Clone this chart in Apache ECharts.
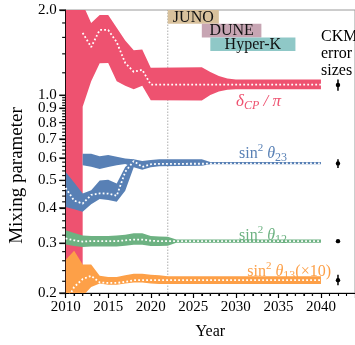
<!DOCTYPE html>
<html><head><meta charset="utf-8">
<script src="https://cdn.jsdelivr.net/npm/echarts@6/dist/echarts.min.js"></script>
<style>html,body{margin:0;padding:0;background:#fff}#c{width:355px;height:345px}</style>
</head><body><div id="c"></div>
<script>
// ---------------- data ----------------
const dcpYears = [2010, 2011, 2012, 2012, 2013, 2014, 2015, 2016, 2017, 2018, 2019, 2020, 2026, 2027, 2028, 2029, 2030, 2040];
const dcpLow   = [0.19, 0.19, 0.19, 0.91, 1.12, 1.296, 1.30, 1.12, 1.08, 1.05, 1.08, 0.96, 0.958, 1.002, 1.031, 1.045, 1.05, 1.05];
const dcpHigh  = [2.2, 2.2, 2.2, 2.1, 1.80, 1.92, 1.92, 1.73, 1.56, 1.44, 1.45, 1.25, 1.256, 1.208, 1.168, 1.145, 1.136, 1.136];
const dcpBestYears = [2012, 2013, 2014, 2015, 2016, 2017, 2018, 2019, 2020, 2040];
const dcpBest      = [1.66, 1.48, 1.70, 1.70, 1.54, 1.30, 1.21, 1.23, 1.09, 1.09];

const t23LoYears = [2010, 2011, 2012, 2013, 2014, 2015, 2016, 2017, 2018];
const t23LoLow   = [0.403, 0.395, 0.387, 0.412, 0.430, 0.426, 0.420, 0.460, 0.556];
const t23LoHigh  = [0.535, 0.491, 0.449, 0.461, 0.500, 0.503, 0.487, 0.558, 0.594];
const t23HiYears = [2012, 2013, 2014, 2015, 2016, 2017, 2018, 2019, 2020, 2021, 2026, 2027, 2040];
const t23HiLow   = [0.566, 0.559, 0.549, 0.557, 0.566, 0.571, 0.556, 0.545, 0.556, 0.561, 0.563, 0.570, 0.570];
const t23HiHigh  = [0.621, 0.621, 0.609, 0.615, 0.606, 0.597, 0.594, 0.586, 0.590, 0.594, 0.594, 0.581, 0.581];
const t23BestYears = [2010, 2011, 2012, 2013, 2014, 2015, 2016, 2017, 2018, 2019, 2020, 2021, 2040];
const t23Best      = [0.470, 0.424, 0.414, 0.444, 0.450, 0.449, 0.441, 0.536, 0.585, 0.558, 0.570, 0.572, 0.574];

const t12Years = [2010, 2011, 2012, 2013, 2014, 2015, 2016, 2017, 2018, 2019, 2020, 2021, 2022, 2023, 2040];
const t12Low   = [0.297, 0.293, 0.291, 0.292, 0.292, 0.292, 0.292, 0.294, 0.296, 0.296, 0.293, 0.293, 0.294, 0.301, 0.301];
const t12High  = [0.333, 0.326, 0.319, 0.318, 0.318, 0.318, 0.319, 0.321, 0.325, 0.325, 0.318, 0.317, 0.316, 0.309, 0.309];
const t12BestYears = [2010, 2011, 2012, 2013, 2014, 2015, 2016, 2017, 2018, 2019, 2020, 2021, 2022, 2040];
const t12Best      = [0.312, 0.307, 0.304, 0.305, 0.305, 0.305, 0.305, 0.307, 0.309, 0.309, 0.306, 0.305, 0.305, 0.305];

const t13Years = [2010, 2011, 2012, 2013, 2014, 2015, 2016, 2017, 2018, 2019, 2020, 2021, 2022, 2040];
const t13Low   = [0.19, 0.19, 0.195, 0.210, 0.216, 0.214, 0.214, 0.216, 0.218, 0.218, 0.216, 0.215, 0.215, 0.215];
const t13High  = [0.262, 0.282, 0.252, 0.252, 0.230, 0.228, 0.228, 0.231, 0.234, 0.234, 0.232, 0.231, 0.229, 0.229];
const t13BestYears = [2010, 2011, 2012, 2013, 2014, 2015, 2016, 2017, 2018, 2019, 2020, 2040];
const t13Best      = [0.185, 0.210, 0.224, 0.230, 0.218, 0.217, 0.217, 0.219, 0.222, 0.222, 0.222, 0.222];

const ckmYear   = 2042;
const ckmCenter = [1.086, 0.574, 0.305, 0.222];
const ckmLow    = [1.037, 0.553, 0.303, 0.213];
const ckmHigh   = [1.136, 0.594, 0.307, 0.232];

const expNames = ['JUNO', 'DUNE', 'Hyper-K'];
const expStart = [2022, 2026, 2027];
const expEnd   = [2028, 2033, 2037];
const referenceYear = 2022;

const xTickValues = [2010, 2015, 2020, 2025, 2030, 2035, 2040];
const yTickValues = [0.2, 0.3, 0.4, 0.5, 0.6, 0.7, 0.8, 0.9, 1.0, 2.0];

// ---------------- styling / layout ----------------
const serif = '"Liberation Serif", "DejaVu Serif", serif';
const C = {red: '#EE5270', blue: '#5880B5', green: '#6DB282', orange: '#FDA048'};
const expColors = ['#D8C19C', '#C7A5B3', '#8FC8C7'];

const xMinor = [];
for (let y = 2011; y < 2040; y++) if (y % 5) xMinor.push(y);
const yMinor = [];
for (let k = 11; k < 50; k++) { const v = +(k * 0.02).toFixed(2); if (Math.abs(v * 10 - Math.round(v * 10)) > 1e-6) yMinor.push(v); }
[1.2, 1.4, 1.6, 1.8].forEach(v => yMinor.push(v));

const X_MIN = 2010, X_MAX = 2044, Y_MIN = 0.2, Y_MAX = 2.0;

function band(years, low, high, color) {
  return {
    type: 'custom', coordinateSystem: 'cartesian2d', silent: true, z: 2,
    data: years.map((y, i) => [y, low[i], high[i]]),
    encode: {x: 0, y: [1, 2]},
    renderItem(params, api) {
      if (params.dataIndex !== 0) return {type: 'group', children: []};
      const pts = [];
      for (let i = 0; i < years.length; i++) pts.push(api.coord([years[i], high[i]]));
      for (let i = years.length - 1; i >= 0; i--) pts.push(api.coord([years[i], low[i]]));
      const cs = params.coordSys;
      return {
        type: 'polygon', shape: {points: pts}, style: {fill: color, stroke: null},
        clipPath: {type: 'rect', shape: {x: cs.x, y: cs.y, width: cs.width, height: cs.height}}
      };
    }
  };
}
function dotted(years, vals) {
  return {
    type: 'line', data: years.map((y, i) => [y, vals[i]]), symbol: 'none', clip: true, z: 4, silent: true,
    lineStyle: {color: '#fff', width: 1.8, type: [1.8, 2.2]}
  };
}

function richLabel(color, size) {
  return {
    m: {fontFamily: serif, fontSize: size, lineHeight: size, padding: [3, 0, 0, 0], verticalAlign: 'top', fill: color},
    t: {fontFamily: serif, fontStyle: 'italic', fontSize: size, lineHeight: size, padding: [3, 0, 0, 0], verticalAlign: 'top', fill: color},
    p: {fontFamily: serif, fontSize: 11, lineHeight: 11, padding: [0, 0, 0, 0], verticalAlign: 'top', fill: color},
    s: {fontFamily: serif, fontSize: 12, lineHeight: 12, padding: [9, 0, 0, 0], verticalAlign: 'top', fill: color},
    si: {fontFamily: serif, fontStyle: 'italic', fontSize: 12, lineHeight: 12, padding: [10, 0, 0, 0], verticalAlign: 'top', fill: color}
  };
}

const labelGraphics = [
  {type: 'text', x: 281, y: 90, silent: true, style: {text: '{t|δ}{si|CP}{t| / π}', textAlign: 'right', textVerticalAlign: 'top', rich: richLabel(C.red, 17)}},
  {type: 'text', x: 287, y: 143, silent: true, style: {text: '{m|sin}{p|2}{t| θ}{s|23}', textAlign: 'right', textVerticalAlign: 'top', rich: richLabel(C.blue, 16)}},
  {type: 'text', x: 287, y: 225, silent: true, style: {text: '{m|sin}{p|2}{t| θ}{s|12}', textAlign: 'right', textVerticalAlign: 'top', rich: richLabel(C.green, 16)}},
  {type: 'text', x: 331, y: 261, silent: true, style: {text: '{m|sin}{p|2}{t| θ}{s|13}{m|(×10)}', textAlign: 'right', textVerticalAlign: 'top', rich: richLabel(C.orange, 16)}},
  {type: 'text', x: 321, y: 28, silent: true, style: {text: 'CKM\nerror\nsizes', font: '16px ' + serif, lineHeight: 17, fill: '#000', textVerticalAlign: 'top'}}
];

const chart = echarts.init(document.getElementById('c'), null, {renderer: 'canvas'});
const option = {
  animation: false,
  grid: {left: 63, top: 10, width: 293.5, height: 292, show: true, borderColor: '#9a9a9a', borderWidth: 1, backgroundColor: 'transparent'},
  xAxis: {
    type: 'value', min: X_MIN, max: X_MAX, interval: 5,
    axisLine: {show: true, onZero: false, lineStyle: {color: '#000', width: 1}},
    axisTick: {show: true, length: 5, lineStyle: {color: '#000', width: 1.2}},
    minorTick: {show: true, splitNumber: 5, length: 3, lineStyle: {color: '#000', width: 1.1}},
    axisLabel: {customValues: xTickValues, formatter: v => String(Math.round(v)), color: '#000', fontFamily: serif, fontSize: 15, margin: 7},
    splitLine: {show: false},
    name: 'Year', nameLocation: 'middle', nameGap: 31,
    nameTextStyle: {fontFamily: serif, fontSize: 16, color: '#000'}
  },
  yAxis: {
    type: 'log', min: Y_MIN, max: Y_MAX,
    axisLine: {show: true, onZero: false, lineStyle: {color: '#000', width: 1}},
    axisTick: {show: true, customValues: yTickValues, length: 6, lineStyle: {color: '#000', width: 1.2}},
    axisLabel: {customValues: yTickValues, formatter: v => (+v).toFixed(1), color: '#000', fontFamily: serif, fontSize: 15, margin: 9},
    splitLine: {show: false},
    name: 'Mixing parameter', nameLocation: 'middle', nameGap: 38, nameRotate: 90,
    nameTextStyle: {fontFamily: serif, fontSize: 19, color: '#000', padding: [0, 48, 0, 0]}
  },
  series: [
    {
      type: 'line', data: [[referenceYear, Y_MIN], [referenceYear, Y_MAX]], symbol: 'none', z: 1, silent: true,
      lineStyle: {color: '#999', width: 0.8, type: [1.5, 1.5]}
    },
    band(dcpYears, dcpLow, dcpHigh, C.red),
    band(t23LoYears, t23LoLow, t23LoHigh, C.blue),
    band(t23HiYears, t23HiLow, t23HiHigh, C.blue),
    band(t12Years, t12Low, t12High, C.green),
    band(t13Years, t13Low, t13High, C.orange),
    dotted(dcpBestYears, dcpBest),
    dotted(t23BestYears, t23Best),
    dotted(t12BestYears, t12Best),
    dotted(t13BestYears, t13Best),
    {
      type: 'custom', coordinateSystem: 'cartesian2d', silent: true, z: 5,
      data: ckmCenter.map((c, i) => [ckmYear, c, ckmLow[i], ckmHigh[i]]),
      encode: {x: 0, y: 1},
      renderItem(params, api) {
        const pc = api.coord([api.value(0), api.value(1)]);
        const pl = api.coord([api.value(0), api.value(2)]);
        const ph = api.coord([api.value(0), api.value(3)]);
        return {type: 'group', children: [
          {type: 'line', shape: {x1: pc[0], y1: pl[1], x2: pc[0], y2: ph[1]}, style: {stroke: '#000', lineWidth: 1.5}},
          {type: 'circle', shape: {cx: pc[0], cy: pc[1], r: 2.2}, style: {fill: '#000'}}
        ]};
      }
    },
    {
      type: 'custom', coordinateSystem: 'cartesian2d', silent: true, z: 6,
      data: expNames.map((n, i) => [expStart[i], Y_MAX, expEnd[i]]),
      encode: {x: 0, y: 1},
      renderItem(params, api) {
        const i = params.dataIndex;
        const p0 = api.coord([api.value(0), Y_MAX]);
        const p1 = api.coord([api.value(2), Y_MAX]);
        const top = params.coordSys.y + i * 13.7;
        return {type: 'group', children: [
          {type: 'rect', shape: {x: p0[0], y: top, width: p1[0] - p0[0], height: 13.7}, style: {fill: expColors[i]}},
          {type: 'text', style: {text: expNames[i], x: (p0[0] + p1[0]) / 2, y: top + 7.3, textAlign: 'center', textVerticalAlign: 'middle', font: '16px ' + serif, fill: '#111'}}
        ]};
      }
    }
  ],
  graphic: {elements: labelGraphics}
};
chart.setOption(option);

// extra minor ticks, positioned through the axes' own scales
try {
  const toPx = (x, y) => chart.convertToPixel({xAxisIndex: 0, yAxisIndex: 0}, [x, y]);
  const origin = toPx(X_MIN, Y_MIN);
  const bottomY = origin[1], leftX = origin[0];
  const tickEls = [];
  const seg = (x1, y1, x2, y2) => tickEls.push({type: 'line', silent: true, z: 100, shape: {x1, y1, x2, y2}, style: {stroke: '#111', lineWidth: 1.2}});
  yTickValues.forEach(v => { const y = toPx(X_MIN, v)[1]; seg(leftX - 6.5, y, leftX, y); });
  yMinor.forEach(v => { const y = toPx(X_MIN, v)[1]; seg(leftX - 3.5, y, leftX, y); });
  xMinor.forEach(v => { const x = toPx(v, Y_MIN)[0]; seg(x, bottomY, x, bottomY + 3); });
  chart.setOption({graphic: {elements: labelGraphics.concat(tickEls)}});
} catch (e) { console.error(e); }
</script>
</body></html>
